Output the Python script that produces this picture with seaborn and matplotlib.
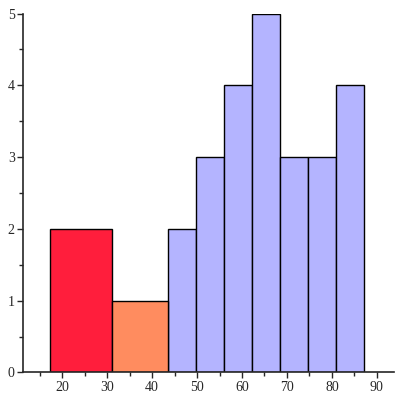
import numpy as np
import matplotlib
matplotlib.use('Agg')
import matplotlib.pyplot as plt
import seaborn as sns
from matplotlib.ticker import MultipleLocator

# bins
red_edges = [17.4, 31.0]
red_counts = [2]
orange_edges = [31.0, 43.6]
orange_counts = [1]
blue_edges = [43.6, 49.85, 56.1, 62.3, 68.5, 74.7, 80.9, 87.1]
blue_counts = [2, 3, 4, 5, 3, 3, 4]

sns.set_style('ticks')
plt.rcParams['font.family'] = ['Liberation Serif', 'DejaVu Serif']

fig = plt.figure(figsize=(4, 4), dpi=100)
ax = fig.add_axes([0.0575, 0.069, 0.9275, 0.897])


def draw(edges, counts, color):
    centers = [(a + b) / 2 for a, b in zip(edges[:-1], edges[1:])]
    sns.histplot(x=centers, weights=counts, bins=edges, color=color,
                 alpha=1, edgecolor='black', linewidth=1.0, ax=ax)


draw(blue_edges, blue_counts, '#b4b4ff')
draw(red_edges, red_counts, '#ff1e3c')
draw(orange_edges, orange_counts, '#ff8c5f')

ax.set_xlim(11.3, 93.8)
ax.set_ylim(0, 5)
ax.set_xlabel('')
ax.set_ylabel('')
ax.xaxis.set_major_locator(MultipleLocator(10))
ax.xaxis.set_minor_locator(MultipleLocator(5))
ax.yaxis.set_major_locator(MultipleLocator(1))
ax.yaxis.set_minor_locator(MultipleLocator(0.5))
ax.tick_params(which='major', length=4, width=1, labelsize=10, pad=2)
ax.tick_params(which='minor', length=3, width=1)
sns.despine(ax=ax)
ax.spines['left'].set_linewidth(1.2)
ax.spines['bottom'].set_linewidth(1.2)

fig.savefig('out.png', dpi=100)
